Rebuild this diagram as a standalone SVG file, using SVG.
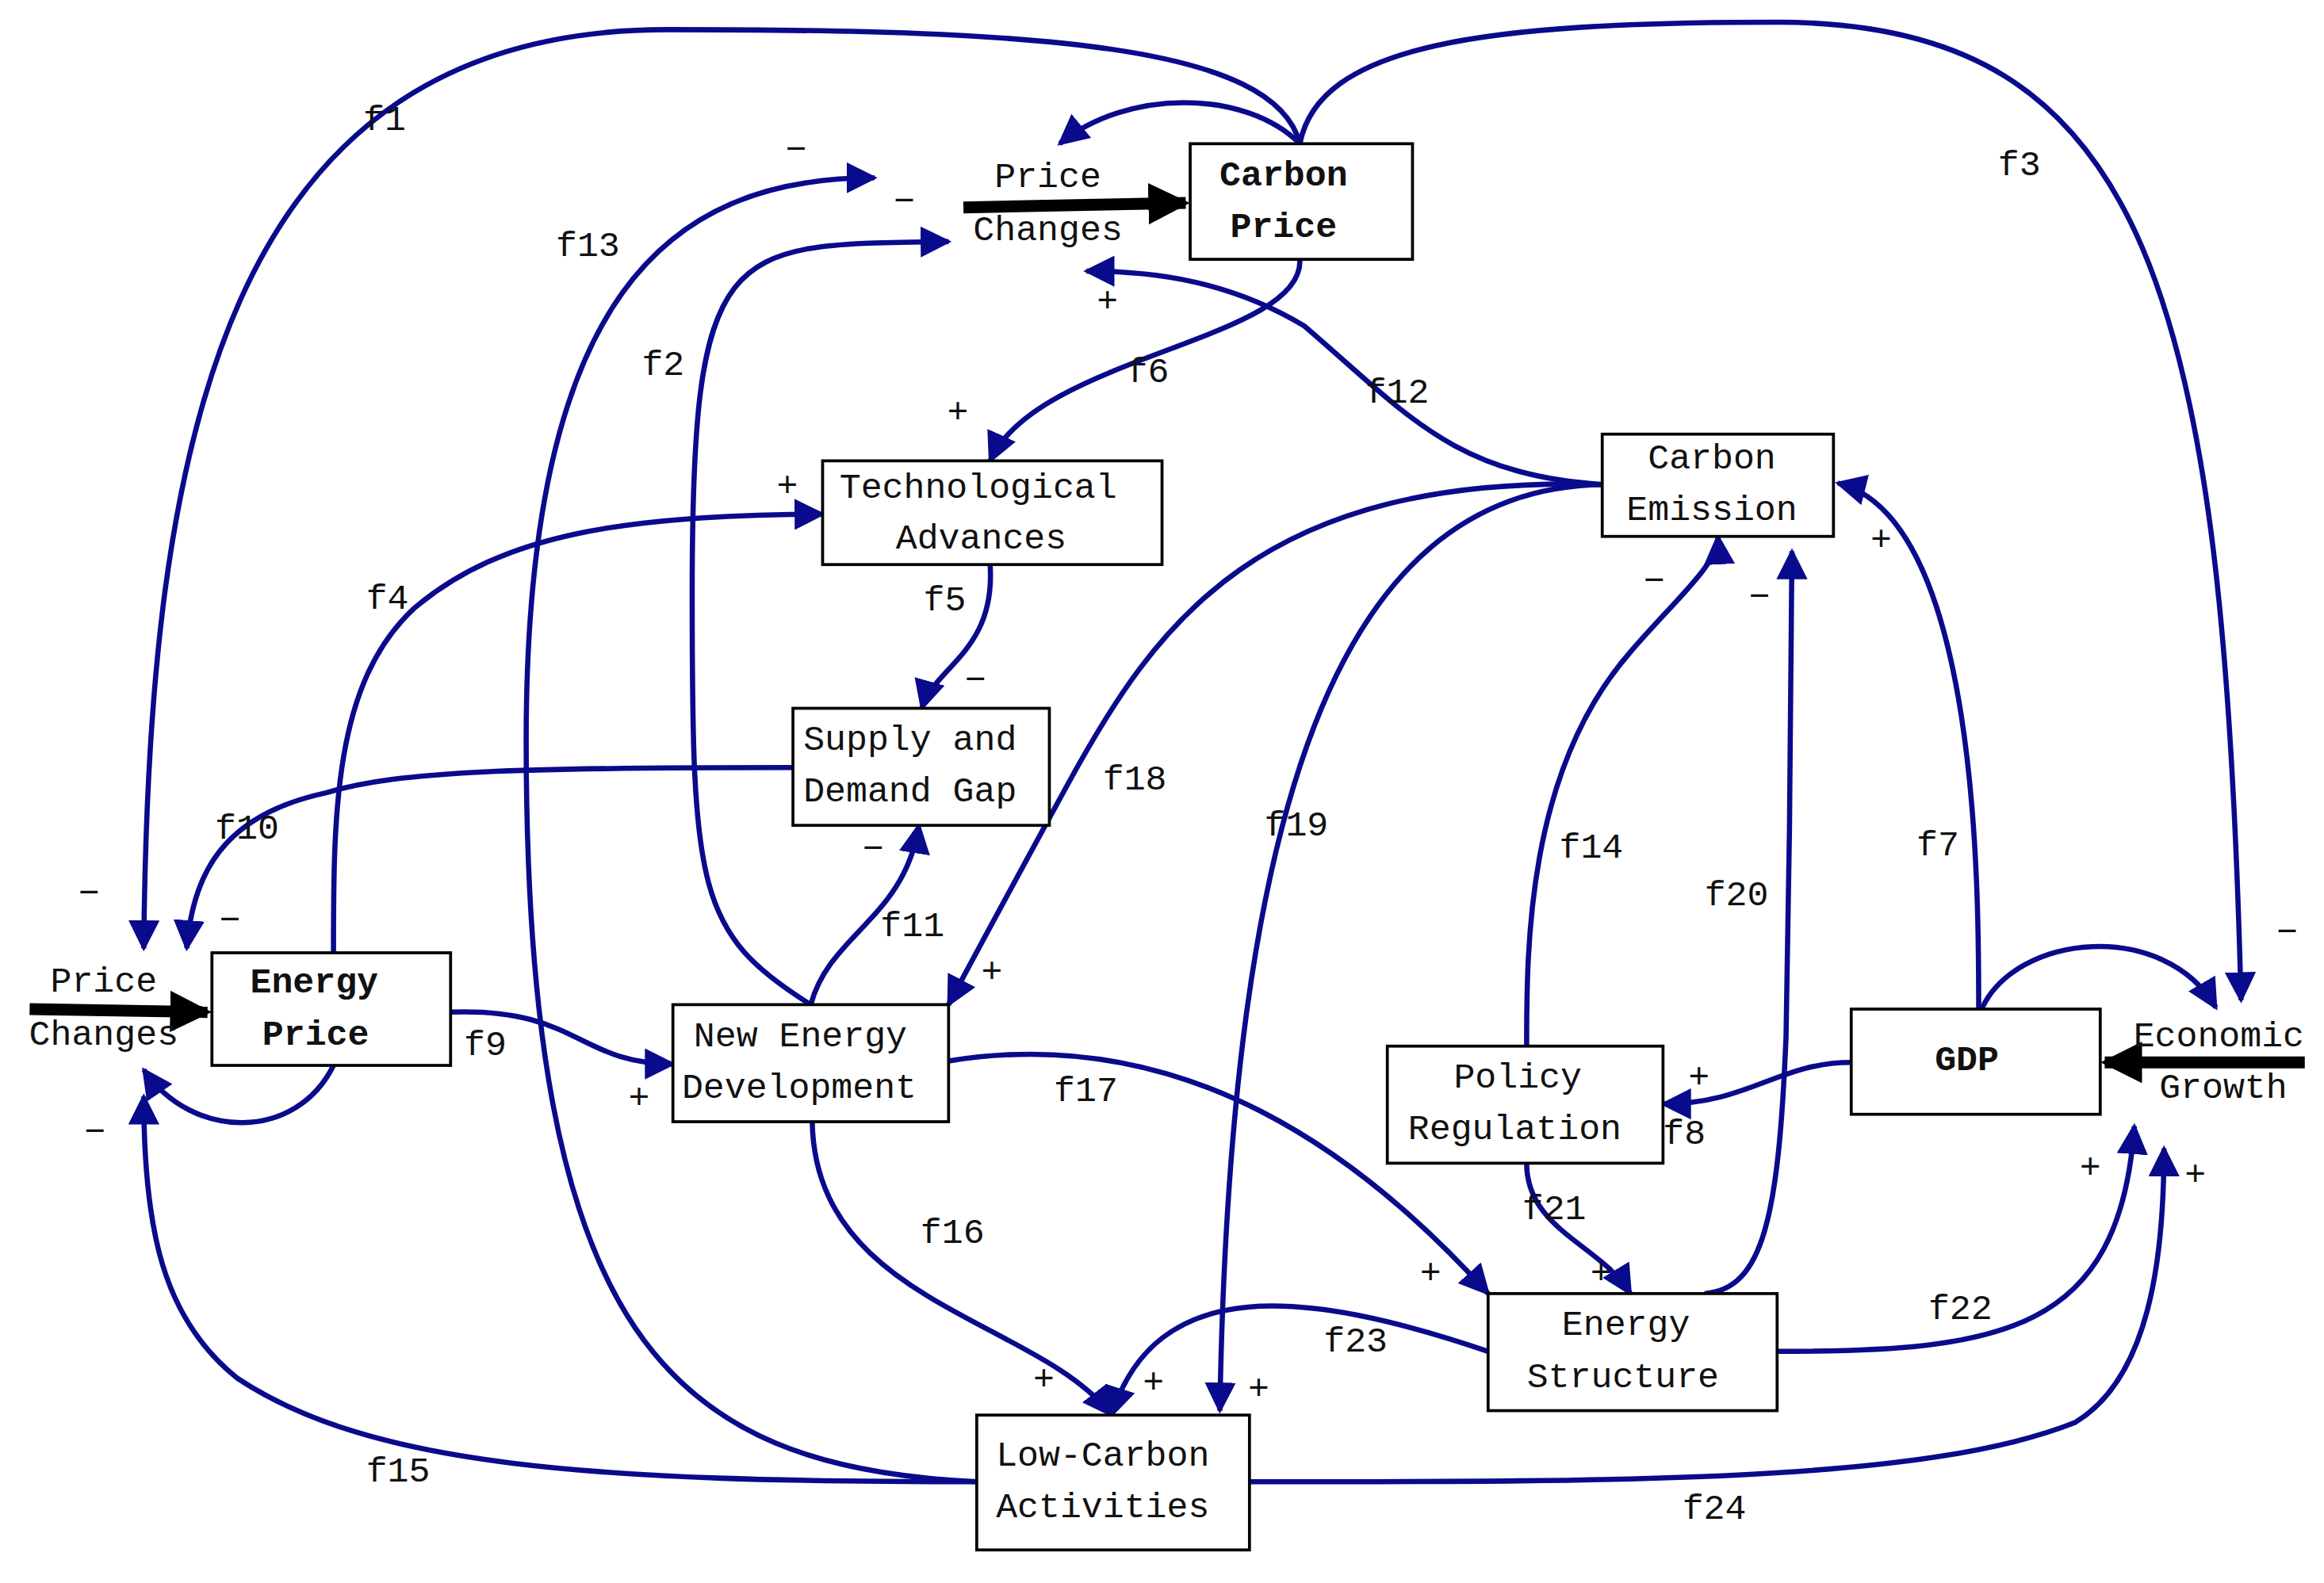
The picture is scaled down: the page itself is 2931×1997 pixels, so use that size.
<svg xmlns="http://www.w3.org/2000/svg" width="2931" height="1997" viewBox="0 0 2931 1997">
<style>
.c{fill:none;stroke:#0a0a8c;stroke-width:3.5;marker-end:url(#a)}
.n{fill:#fff;stroke:#000;stroke-width:2}
text{font-family:"Liberation Mono","DejaVu Sans Mono",monospace;font-size:24px;fill:#111}
.b{font-weight:bold}
.m{text-anchor:middle}
.t{fill:none;stroke:#000;stroke-width:8;marker-end:url(#k)}
</style>
<defs>
<marker id="a" viewBox="0 0 10 10" refX="9" refY="5" markerWidth="6" markerHeight="6" orient="auto"><path d="M0,0L10,5L0,10z" fill="#0a0a8c"/></marker>
<marker id="k" viewBox="0 0 10 10" refX="9" refY="5" markerWidth="3.5" markerHeight="3.5" orient="auto"><path d="M0,0L10,5L0,10z" fill="#000"/></marker>
</defs>
<rect width="2931" height="1997" fill="#fff"/>
<g transform="scale(1.8693)">
<g id="connectors">
<path class="t" d="M650,140L800,137"/>
<path class="t" d="M20,681L140,683"/>
<path class="t" d="M1555,717L1420,717"/>
<path class="c" d="M877,97C860,30 700,20 450,20C150,20 100,300 97,640"/>
<path class="c" d="M877,97C890,30 1000,15 1200,15C1450,15 1500,200 1512,675"/>
<path class="c" d="M877,97C840,60 760,60 715,97"/>
<path class="c" d="M659,1000C450,990 355,900 355,500C355,200 450,120 590,120"/>
<path class="c" d="M547,678C470,630 467,600 467,400C467,160 490,165 640,163"/>
<path class="c" d="M877,175C880,230 700,240 668,311"/>
<path class="c" d="M1081,327C980,320 950,280 880,220C830,190 780,183 733,183"/>
<path class="c" d="M1081,327C850,320 780,420 720,530C690,585 660,640 640,678"/>
<path class="c" d="M1081,327C900,330 830,550 823,952"/>
<path class="c" d="M225,643C225,550 225,460 280,410C340,360 420,348 555,347"/>
<path class="c" d="M668,381C672,440 630,450 622,478"/>
<path class="c" d="M535,518C350,518 270,520 220,535C150,550 130,590 126,640"/>
<path class="c" d="M547,678C560,630 610,620 620,557"/>
<path class="c" d="M304,683C390,680 390,718 454,718"/>
<path class="c" d="M640,716C800,690 920,780 1004,873"/>
<path class="c" d="M548,757C550,880 700,890 750,955"/>
<path class="c" d="M1004,912C880,870 780,860 750,955"/>
<path class="c" d="M659,1000C400,1000 250,990 160,930C110,890 97,830 97,740"/>
<path class="c" d="M225,719C200,770 130,770 97,722"/>
<path class="c" d="M843,1000C1100,1000 1300,1000 1400,960C1450,930 1460,850 1460,775"/>
<path class="c" d="M1199,912C1350,912 1430,900 1440,760"/>
<path class="c" d="M1030,706C1030,640 1030,520 1100,440C1130,405 1160,380 1159,362"/>
<path class="c" d="M1150,873C1190,870 1200,820 1205,700C1207,600 1209,450 1209,372"/>
<path class="c" d="M1335,681C1335,600 1335,350 1240,326"/>
<path class="c" d="M1249,717C1200,717 1180,745 1122,745"/>
<path class="c" d="M1030,785C1030,830 1080,840 1100,873"/>
<path class="c" d="M1337,681C1360,630 1460,620 1495,680"/>
</g>
<g id="carbonPrice"><rect class="n" x="803" y="97" width="150" height="78"/><text class="b m" x="866" y="125">Carbon</text><text class="b m" x="866" y="160">Price</text></g>
<g id="techAdv"><rect class="n" x="555" y="311" width="229" height="70"/><text class="m" x="660" y="336">Technological</text><text class="m" x="662" y="370">Advances</text></g>
<g id="supplyGap"><rect class="n" x="535" y="478" width="173" height="79"/><text x="542" y="506">Supply and</text><text x="542" y="541">Demand Gap</text></g>
<g id="carbonEmission"><rect class="n" x="1081" y="293" width="156" height="69"/><text class="m" x="1155" y="316">Carbon</text><text class="m" x="1155" y="351">Emission</text></g>
<g id="energyPrice"><rect class="n" x="143" y="643" width="161" height="76"/><text class="b m" x="212" y="670">Energy</text><text class="b m" x="213" y="705">Price</text></g>
<g id="newEnergy"><rect class="n" x="454" y="678" width="186" height="79"/><text x="468" y="706">New Energy</text><text x="460" y="741">Development</text></g>
<g id="policy"><rect class="n" x="936" y="706" width="186" height="79"/><text class="m" x="1024" y="734">Policy</text><text class="m" x="1022" y="769">Regulation</text></g>
<g id="gdp"><rect class="n" x="1249" y="681" width="168" height="71"/><text class="b m" x="1327" y="722">GDP</text></g>
<g id="energyStructure"><rect class="n" x="1004" y="873" width="195" height="79"/><text class="m" x="1097" y="901">Energy</text><text class="m" x="1095" y="936">Structure</text></g>
<g id="lowCarbon"><rect class="n" x="659" y="955" width="184" height="91"/><text class="m" x="744" y="989">Low-Carbon</text><text class="m" x="744" y="1024">Activities</text></g>
<g id="priceChangesTop"><text class="m" x="707" y="126">Price</text><text class="m" x="707" y="162">Changes</text></g>
<g id="priceChangesLeft"><text class="m" x="70" y="669">Price</text><text class="m" x="70" y="705">Changes</text></g>
<g id="economicGrowth"><text class="m" x="1497" y="706">Economic</text><text class="m" x="1500" y="741">Growth</text></g>
<g id="labels">
<text x="245" y="88">f1</text><text x="433" y="253">f2</text><text x="1348" y="118">f3</text>
<text x="247" y="411">f4</text><text x="623" y="412">f5</text><text x="760" y="258">f6</text>
<text x="1293" y="577">f7</text><text x="1122" y="772">f8</text><text x="313" y="712">f9</text>
<text x="145" y="566">f10</text><text x="594" y="632">f11</text><text x="921" y="272">f12</text>
<text x="375" y="173">f13</text><text x="1052" y="579">f14</text><text x="247" y="1000">f15</text>
<text x="621" y="839">f16</text><text x="711" y="743">f17</text><text x="744" y="533">f18</text>
<text x="853" y="564">f19</text><text x="1150" y="611">f20</text><text x="1027" y="823">f21</text>
<text x="1301" y="890">f22</text><text x="893" y="912">f23</text><text x="1135" y="1025">f24</text>
<text x="530" y="108">−</text><text x="603" y="143">−</text><text x="740" y="210">+</text>
<text x="639" y="285">+</text><text x="524" y="335">+</text><text x="651" y="466">−</text>
<text x="582" y="580">−</text><text x="662" y="663">+</text><text x="424" y="748">+</text>
<text x="53" y="610">−</text><text x="148" y="628">−</text><text x="57" y="771">−</text>
<text x="1109" y="399">−</text><text x="1180" y="410">−</text><text x="1262" y="371">+</text>
<text x="1139" y="734">+</text><text x="1536" y="636">−</text><text x="1403" y="795">+</text>
<text x="1474" y="800">+</text><text x="958" y="866">+</text><text x="1073" y="866">+</text>
<text x="697" y="938">+</text><text x="771" y="940">+</text><text x="842" y="944">+</text>
</g>
</g>
</svg>
